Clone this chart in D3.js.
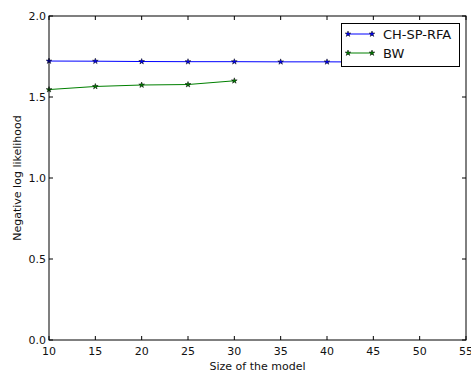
<!DOCTYPE html>
<html><head><meta charset="utf-8">
<script src="https://cdn.jsdelivr.net/npm/d3@7"></script>
<style>body{margin:0;background:#fff}svg text{font-family:"DejaVu Sans",sans-serif;fill:#111}</style>
</head><body>
<svg id="c" width="471" height="374"></svg>
<script>
const sizesA = [10, 15, 20, 25, 30, 35, 40, 45, 50];
const chspRFA = [1.722, 1.721, 1.719, 1.718, 1.718, 1.717, 1.717, 1.716, 1.716];
const sizesB = [10, 15, 20, 25, 30];
const bw = [1.546, 1.565, 1.574, 1.577, 1.600];
const xTicks = [10, 15, 20, 25, 30, 35, 40, 45, 50, 55];
const yTicks = [0.0, 0.5, 1.0, 1.5, 2.0];

const svg = d3.select("#c");
const L = 49, R = 466, T = 16, B = 340;
const x = d3.scaleLinear().domain([10, 55]).range([L, R]);
const y = d3.scaleLinear().domain([0, 2]).range([B, T]);

const g = svg.append("g");
xTicks.forEach(t => {
  g.append("line").attr("x1", x(t)).attr("x2", x(t)).attr("y1", B).attr("y2", B - 4).attr("stroke", "#000");
  g.append("line").attr("x1", x(t)).attr("x2", x(t)).attr("y1", T).attr("y2", T + 4).attr("stroke", "#000");
  g.append("text").attr("x", x(t)).attr("y", B + 15).attr("text-anchor", "middle").attr("font-size", 11).text(t);
});
yTicks.forEach(t => {
  g.append("line").attr("x1", L).attr("x2", L + 4).attr("y1", y(t)).attr("y2", y(t)).attr("stroke", "#000");
  g.append("line").attr("x1", R).attr("x2", R - 4).attr("y1", y(t)).attr("y2", y(t)).attr("stroke", "#000");
  g.append("text").attr("x", L - 3).attr("y", y(t) + 4).attr("text-anchor", "end").attr("font-size", 11).text(t.toFixed(1));
});

const star = d3.symbol().type(d3.symbolStar).size(10);
function series(xs, ys, color) {
  const line = d3.line().x((d, i) => x(xs[i])).y(d => y(d));
  g.append("path").datum(ys).attr("d", line).attr("fill", "none").attr("stroke", color).attr("stroke-width", 1);
  g.selectAll(null).data(ys).enter().append("path")
    .attr("d", star).attr("transform", (d, i) => `translate(${x(xs[i])},${y(d)})`)
    .attr("fill", color).attr("stroke", "#000").attr("stroke-width", 0.5);
}
series(sizesA, chspRFA, "#0000ff");
series(sizesB, bw, "#008000");

g.append("rect").attr("x", L).attr("y", T).attr("width", R - L).attr("height", B - T)
  .attr("fill", "none").attr("stroke", "#000").attr("stroke-width", 1);

const lg = svg.append("g");
lg.append("rect").attr("x", 341.5).attr("y", 23.5).attr("width", 118).attr("height", 43)
  .attr("fill", "#fff").attr("stroke", "#000").attr("stroke-width", 1);
[["CH-SP-RFA", "#0000ff", 34], ["BW", "#008000", 53]].forEach(([name, c, yy]) => {
  lg.append("line").attr("x1", 348).attr("x2", 372).attr("y1", yy).attr("y2", yy).attr("stroke", c);
  [348, 372].forEach(px => lg.append("path").attr("d", star).attr("transform", `translate(${px},${yy})`)
    .attr("fill", c).attr("stroke", "#000").attr("stroke-width", 0.5));
  lg.append("text").attr("x", 383).attr("y", yy + 5).attr("font-size", 13).text(name);
});

svg.append("text").attr("x", (L + R) / 2).attr("y", 370).attr("text-anchor", "middle").attr("font-size", 11).text("Size of the model");
svg.append("text").attr("transform", `translate(21,${(T + B) / 2}) rotate(-90)`).attr("text-anchor", "middle").attr("font-size", 11).text("Negative log likelihood");
</script>
</body></html>
